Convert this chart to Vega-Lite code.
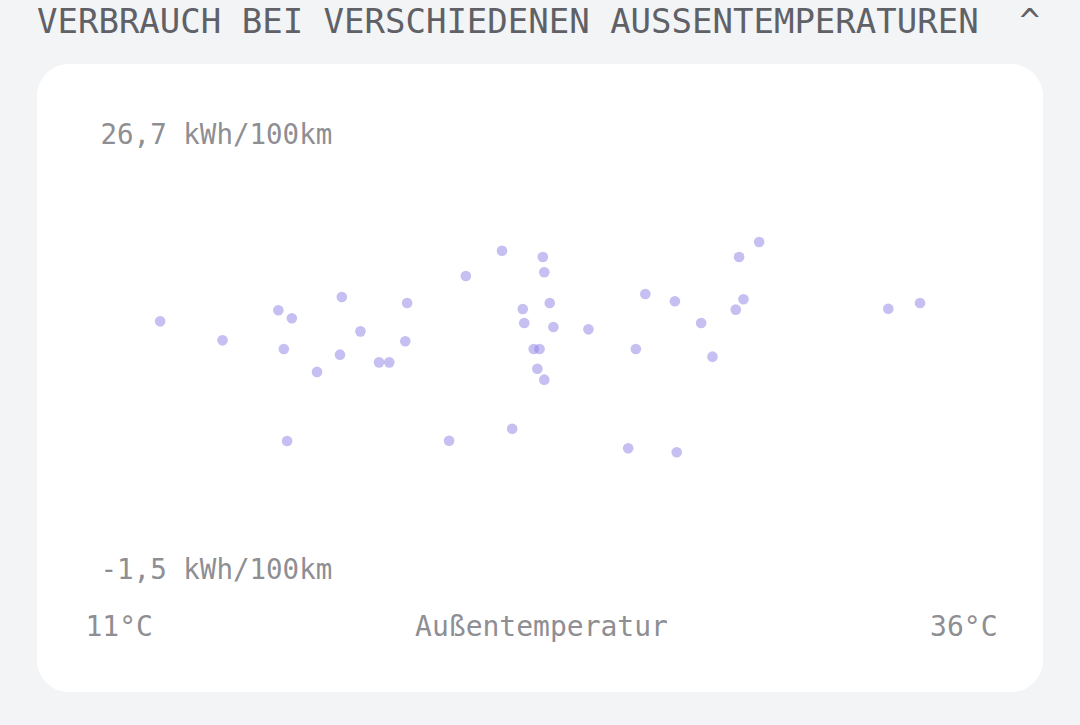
{
  "$schema": "https://vega.github.io/schema/vega-lite/v6.json",
  "width": 1006,
  "height": 628,
  "autosize": "none",
  "padding": {"left": 37, "top": 64, "right": 37, "bottom": 33},
  "background": "#f3f4f6",
  "title": {
    "text": "VERBRAUCH BEI VERSCHIEDENEN AUSSENTEMPERATUREN\u00a0\u00a0^",
    "anchor": "start",
    "frame": "group",
    "font": "DejaVu Sans Mono",
    "fontSize": 34,
    "fontWeight": "normal",
    "color": "#5f6166",
    "offset": 24
  },
  "config": {
    "view": {"fill": "white", "stroke": null, "cornerRadius": 32}
  },
  "data": {
    "values": [
      {"temp": 13.06, "verbrauch": 14.62},
      {"temp": 14.77, "verbrauch": 13.39},
      {"temp": 16.30, "verbrauch": 15.34},
      {"temp": 16.67, "verbrauch": 14.82},
      {"temp": 16.45, "verbrauch": 12.83},
      {"temp": 18.04, "verbrauch": 16.20},
      {"temp": 18.55, "verbrauch": 13.97},
      {"temp": 17.99, "verbrauch": 12.46},
      {"temp": 17.36, "verbrauch": 11.34},
      {"temp": 19.06, "verbrauch": 11.96},
      {"temp": 19.34, "verbrauch": 11.96},
      {"temp": 19.83, "verbrauch": 15.81},
      {"temp": 19.78, "verbrauch": 13.33},
      {"temp": 16.54, "verbrauch": 6.86},
      {"temp": 22.43, "verbrauch": 19.20},
      {"temp": 21.44, "verbrauch": 17.56},
      {"temp": 23.55, "verbrauch": 18.79},
      {"temp": 23.59, "verbrauch": 17.80},
      {"temp": 23.00, "verbrauch": 15.42},
      {"temp": 23.04, "verbrauch": 14.51},
      {"temp": 23.74, "verbrauch": 15.81},
      {"temp": 23.84, "verbrauch": 14.25},
      {"temp": 24.80, "verbrauch": 14.10},
      {"temp": 23.30, "verbrauch": 12.83},
      {"temp": 23.46, "verbrauch": 12.83},
      {"temp": 23.40, "verbrauch": 11.55},
      {"temp": 23.59, "verbrauch": 10.84},
      {"temp": 22.71, "verbrauch": 7.66},
      {"temp": 20.98, "verbrauch": 6.88},
      {"temp": 26.36, "verbrauch": 16.39},
      {"temp": 27.17, "verbrauch": 15.92},
      {"temp": 27.89, "verbrauch": 14.51},
      {"temp": 26.10, "verbrauch": 12.83},
      {"temp": 28.20, "verbrauch": 12.33},
      {"temp": 25.89, "verbrauch": 6.39},
      {"temp": 27.22, "verbrauch": 6.13},
      {"temp": 29.48, "verbrauch": 19.76},
      {"temp": 28.93, "verbrauch": 18.79},
      {"temp": 29.05, "verbrauch": 16.05},
      {"temp": 28.84, "verbrauch": 15.38},
      {"temp": 33.02, "verbrauch": 15.44},
      {"temp": 33.89, "verbrauch": 15.81}
    ]
  },
  "mark": {"type": "circle", "size": 113, "color": "#8b80e6", "opacity": 0.5},
  "encoding": {
    "x": {
      "field": "temp",
      "type": "quantitative",
      "scale": {"domain": [11, 36], "range": [48, 960], "nice": false, "zero": false},
      "axis": {
        "orient": "bottom",
        "values": [11, 36],
        "labelExpr": "datum.value + '°C'",
        "labelFlush": true,
        "offset": -65,
        "ticks": false,
        "tickSize": 0,
        "domain": false,
        "grid": false,
        "labelPadding": 0,
        "labelBaseline": "middle",
        "labelFont": "DejaVu Sans Mono",
        "labelFontSize": 28,
        "labelColor": "#8e8e93",
        "title": "Außentemperatur",
        "titleFont": "DejaVu Sans Mono",
        "titleFontSize": 28,
        "titleFontWeight": "normal",
        "titleColor": "#8e8e93",
        "titleBaseline": "middle",
        "titleY": 0
      }
    },
    "y": {
      "field": "verbrauch",
      "type": "quantitative",
      "scale": {"domain": [-1.5, 26.7], "range": [506, 71], "nice": false, "zero": false},
      "axis": {
        "orient": "left",
        "values": [-1.5, 26.7],
        "labelExpr": "replace(replace(format(datum.value, '.1f'), '.', ','), '−', '-') + ' kWh/100km'",
        "offset": -63,
        "ticks": false,
        "tickSize": 0,
        "domain": false,
        "grid": false,
        "labelPadding": 0,
        "labelAlign": "left",
        "labelBaseline": "middle",
        "labelLimit": 0,
        "labelFont": "DejaVu Sans Mono",
        "labelFontSize": 27.5,
        "labelColor": "#8e8e93",
        "title": null
      }
    }
  }
}
